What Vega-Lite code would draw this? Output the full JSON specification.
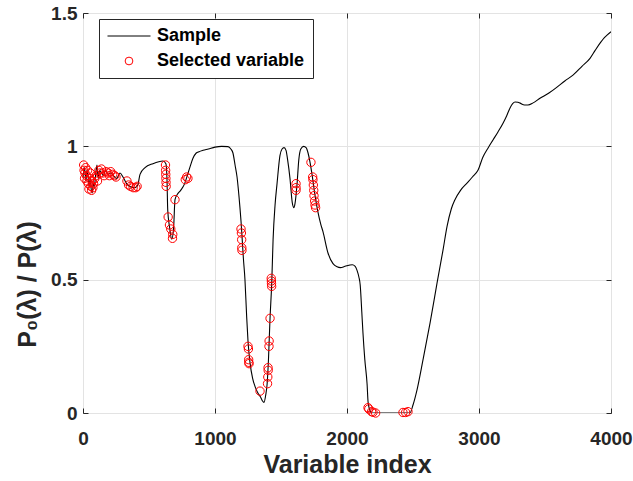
{
  "$schema": "https://vega.github.io/schema/vega-lite/v6.json",
  "autosize": "none",
  "width": 528,
  "height": 400,
  "padding": {"left": 83, "top": 13, "right": 22, "bottom": 68},
  "background": "white",
  "config": {
    "font": "Liberation Sans",
    "view": {"stroke": "#262626", "strokeWidth": 1},
    "axis": {
      "labelFont": "Liberation Sans", "labelFontWeight": "bold", "labelFontSize": 19, "labelColor": "#262626",
      "titleFont": "Liberation Sans", "titleFontWeight": "bold", "titleFontSize": 25, "titleColor": "#262626",
      "domain": false, "tickColor": "#262626", "tickSize": -5, "labelPadding": 11, "labelFlush": false,
      "gridColor": "#e3e3e3", "gridWidth": 1
    }
  },
  "datasets": {
    "sample": [
      {"idx":0,"value":0.88},{"idx":8,"value":0.92},{"idx":15,"value":0.905},{"idx":22,"value":0.87},{"idx":30,"value":0.91},
      {"idx":38,"value":0.89},{"idx":46,"value":0.85},{"idx":55,"value":0.88},{"idx":62,"value":0.84},{"idx":70,"value":0.825},
      {"idx":78,"value":0.86},{"idx":86,"value":0.85},{"idx":95,"value":0.89},{"idx":106,"value":0.93},{"idx":115,"value":0.88},
      {"idx":125,"value":0.91},{"idx":140,"value":0.9},{"idx":155,"value":0.89},{"idx":170,"value":0.91},{"idx":190,"value":0.895},
      {"idx":210,"value":0.9},{"idx":230,"value":0.89},{"idx":255,"value":0.88},{"idx":280,"value":0.9},{"idx":303,"value":0.885},
      {"idx":330,"value":0.86},{"idx":360,"value":0.848},{"idx":395,"value":0.845},{"idx":415,"value":0.855},{"idx":432,"value":0.895},
      {"idx":470,"value":0.92},{"idx":530,"value":0.935},{"idx":606,"value":0.945},{"idx":628,"value":0.935},{"idx":636,"value":0.88},
      {"idx":642,"value":0.76},{"idx":655,"value":0.7},{"idx":672,"value":0.652},{"idx":686,"value":0.69},{"idx":697,"value":0.8},
      {"idx":715,"value":0.82},{"idx":740,"value":0.835},{"idx":770,"value":0.86},{"idx":790,"value":0.89},{"idx":812,"value":0.925},
      {"idx":833,"value":0.955},{"idx":858,"value":0.975},{"idx":879,"value":0.98},{"idx":910,"value":0.985},{"idx":950,"value":0.99},
      {"idx":1000,"value":0.997},{"idx":1050,"value":1.0},{"idx":1098,"value":0.999},{"idx":1120,"value":0.99},{"idx":1136,"value":0.975},
      {"idx":1152,"value":0.93},{"idx":1167,"value":0.885},{"idx":1189,"value":0.77},{"idx":1197,"value":0.72},{"idx":1205,"value":0.66},
      {"idx":1215,"value":0.58},{"idx":1227,"value":0.5},{"idx":1240,"value":0.36},{"idx":1250,"value":0.27},{"idx":1265,"value":0.19},
      {"idx":1285,"value":0.13},{"idx":1303,"value":0.1},{"idx":1325,"value":0.075},{"idx":1345,"value":0.06},{"idx":1360,"value":0.045},
      {"idx":1371,"value":0.04},{"idx":1385,"value":0.07},{"idx":1395,"value":0.11},{"idx":1405,"value":0.2},{"idx":1417,"value":0.356},
      {"idx":1430,"value":0.49},{"idx":1440,"value":0.65},{"idx":1455,"value":0.78},{"idx":1470,"value":0.86},{"idx":1492,"value":0.965},
      {"idx":1508,"value":0.99},{"idx":1523,"value":0.995},{"idx":1538,"value":0.985},{"idx":1550,"value":0.95},{"idx":1568,"value":0.88},
      {"idx":1585,"value":0.79},{"idx":1598,"value":0.77},{"idx":1606,"value":0.785},{"idx":1621,"value":0.855},{"idx":1635,"value":0.95},
      {"idx":1650,"value":0.99},{"idx":1672,"value":1.0},{"idx":1690,"value":0.995},{"idx":1705,"value":0.975},{"idx":1720,"value":0.94},
      {"idx":1735,"value":0.895},{"idx":1758,"value":0.815},{"idx":1780,"value":0.753},{"idx":1800,"value":0.71},{"idx":1818,"value":0.68},
      {"idx":1856,"value":0.6},{"idx":1894,"value":0.56},{"idx":1925,"value":0.548},{"idx":1950,"value":0.545},{"idx":1985,"value":0.55},
      {"idx":2040,"value":0.556},{"idx":2062,"value":0.55},{"idx":2076,"value":0.535},{"idx":2090,"value":0.51},{"idx":2100,"value":0.48},
      {"idx":2112,"value":0.38},{"idx":2121,"value":0.3},{"idx":2135,"value":0.2},{"idx":2152,"value":0.11},{"idx":2160,"value":0.04},
      {"idx":2175,"value":0.008},{"idx":2189,"value":0.0},{"idx":2300,"value":0.0},{"idx":2477,"value":0.0},{"idx":2500,"value":0.03},
      {"idx":2530,"value":0.086},{"idx":2576,"value":0.2},{"idx":2629,"value":0.337},{"idx":2682,"value":0.487},{"idx":2727,"value":0.61},
      {"idx":2758,"value":0.7},{"idx":2790,"value":0.765},{"idx":2818,"value":0.8},{"idx":2860,"value":0.835},{"idx":2909,"value":0.862},
      {"idx":2950,"value":0.885},{"idx":2992,"value":0.91},{"idx":3030,"value":0.96},{"idx":3070,"value":0.995},{"idx":3106,"value":1.024},
      {"idx":3145,"value":1.055},{"idx":3182,"value":1.087},{"idx":3210,"value":1.115},{"idx":3235,"value":1.144},{"idx":3255,"value":1.16},
      {"idx":3273,"value":1.166},{"idx":3295,"value":1.165},{"idx":3311,"value":1.162},{"idx":3345,"value":1.155},{"idx":3371,"value":1.155},
      {"idx":3410,"value":1.163},{"idx":3462,"value":1.18},{"idx":3530,"value":1.2},{"idx":3591,"value":1.222},{"idx":3650,"value":1.245},
      {"idx":3712,"value":1.267},{"idx":3780,"value":1.3},{"idx":3841,"value":1.33},{"idx":3880,"value":1.36},{"idx":3917,"value":1.387},
      {"idx":3950,"value":1.408},{"idx":3970,"value":1.417},{"idx":4000,"value":1.43}
    ],
    "selected": [
      {"idx":5,"value":0.93},{"idx":8,"value":0.91},{"idx":12,"value":0.88},{"idx":15,"value":0.9},{"idx":20,"value":0.92},
      {"idx":25,"value":0.89},{"idx":30,"value":0.87},{"idx":35,"value":0.91},{"idx":40,"value":0.86},{"idx":45,"value":0.84},
      {"idx":50,"value":0.88},{"idx":55,"value":0.9},{"idx":60,"value":0.85},{"idx":65,"value":0.835},{"idx":70,"value":0.87},
      {"idx":75,"value":0.845},{"idx":80,"value":0.86},{"idx":90,"value":0.88},{"idx":100,"value":0.89},{"idx":110,"value":0.87},
      {"idx":120,"value":0.91},{"idx":130,"value":0.9},{"idx":140,"value":0.915},{"idx":150,"value":0.9},{"idx":160,"value":0.89},
      {"idx":175,"value":0.905},{"idx":190,"value":0.9},{"idx":200,"value":0.89},{"idx":210,"value":0.905},{"idx":225,"value":0.895},
      {"idx":240,"value":0.89},{"idx":250,"value":0.885},
      {"idx":333,"value":0.87},{"idx":345,"value":0.855},{"idx":360,"value":0.85},{"idx":380,"value":0.845},{"idx":400,"value":0.845},{"idx":410,"value":0.85},
      {"idx":625,"value":0.93},{"idx":626,"value":0.91},{"idx":627,"value":0.895},{"idx":628,"value":0.88},{"idx":629,"value":0.865},{"idx":630,"value":0.85},
      {"idx":645,"value":0.735},{"idx":655,"value":0.705},{"idx":665,"value":0.69},{"idx":680,"value":0.67},{"idx":678,"value":0.655},{"idx":697,"value":0.8},
      {"idx":775,"value":0.875},{"idx":785,"value":0.885},{"idx":795,"value":0.88},
      {"idx":1197,"value":0.69},{"idx":1200,"value":0.675},{"idx":1202,"value":0.65},{"idx":1203,"value":0.62},{"idx":1204,"value":0.61},
      {"idx":1250,"value":0.25},{"idx":1253,"value":0.24},{"idx":1255,"value":0.2},{"idx":1256,"value":0.19},{"idx":1258,"value":0.185},
      {"idx":1341,"value":0.082},
      {"idx":1402,"value":0.17},{"idx":1403,"value":0.16},{"idx":1400,"value":0.135},{"idx":1398,"value":0.11},
      {"idx":1410,"value":0.27},{"idx":1409,"value":0.25},{"idx":1417,"value":0.355},
      {"idx":1426,"value":0.505},{"idx":1427,"value":0.495},{"idx":1428,"value":0.485},{"idx":1429,"value":0.475},
      {"idx":1614,"value":0.86},{"idx":1614,"value":0.845},{"idx":1614,"value":0.835},
      {"idx":1727,"value":0.94},{"idx":1740,"value":0.885},{"idx":1742,"value":0.875},{"idx":1745,"value":0.855},{"idx":1748,"value":0.835},
      {"idx":1750,"value":0.815},{"idx":1755,"value":0.795},{"idx":1758,"value":0.78},{"idx":1762,"value":0.77},
      {"idx":2159,"value":0.02},{"idx":2165,"value":0.015},{"idx":2186,"value":0.005},{"idx":2197,"value":0.003},{"idx":2217,"value":0.0},
      {"idx":2424,"value":0.002},{"idx":2444,"value":0.002},{"idx":2462,"value":0.005}
    ]
  },
  "layer": [
    {
      "data": {"name": "sample"},
      "transform": [{"calculate": "'Sample'", "as": "series"}],
      "mark": {"type": "line", "strokeWidth": 1.1, "interpolate": "monotone", "clip": true},
      "encoding": {
        "x": {"field": "idx", "type": "quantitative", "scale": {"domain": [0, 4000], "nice": false},
          "axis": {"orient": "bottom", "title": "Variable index", "values": [0, 1000, 2000, 3000, 4000], "format": "d", "labelPadding": 21, "titlePadding": 4}},
        "y": {"field": "value", "type": "quantitative", "scale": {"domain": [0, 1.5], "nice": false},
          "axis": {"orient": "left", "title": "P₀(λ) / P(λ)", "values": [0, 0.5, 1, 1.5], "labelExpr": "'' + datum.value", "labelPadding": 11, "titlePadding": 10, "titleY": 271}},
        "stroke": {"field": "series", "type": "nominal",
          "scale": {"domain": ["Sample", "Selected variable"], "range": ["black", "red"]},
          "legend": {
            "orient": "none", "legendX": 16, "legendY": 6, "title": null,
            "fillColor": "white", "strokeColor": "#262626", "padding": 8,
            "labelFont": "Liberation Sans", "labelFontWeight": "bold", "labelFontSize": 18, "labelColor": "black",
            "symbolSize": 1850, "symbolStrokeWidth": 1, "rowPadding": 7, "labelOffset": 19, "symbolOffset": 13,
            "encode": {"symbols": {"update": {
              "shape": {"signal": "datum.value === 'Sample' ? 'stroke' : 'circle'"},
              "size": {"signal": "datum.value === 'Sample' ? 1850 : 60"},
              "fill": {"value": "transparent"}
            }}}
          }}
      }
    },
    {
      "data": {"name": "selected"},
      "transform": [{"calculate": "'Selected variable'", "as": "series"}],
      "mark": {"type": "point", "shape": "circle", "filled": false, "size": 70, "strokeWidth": 1, "opacity": 1},
      "encoding": {
        "x": {"field": "idx", "type": "quantitative",
          "axis": {"orient": "top", "title": null, "labels": false, "grid": false, "values": [0, 1000, 2000, 3000, 4000]}},
        "y": {"field": "value", "type": "quantitative",
          "axis": {"orient": "right", "title": null, "labels": false, "grid": false, "values": [0, 0.5, 1, 1.5]}},
        "stroke": {"field": "series", "type": "nominal"}
      }
    }
  ],
  "resolve": {"axis": {"x": "independent", "y": "independent"}}
}
